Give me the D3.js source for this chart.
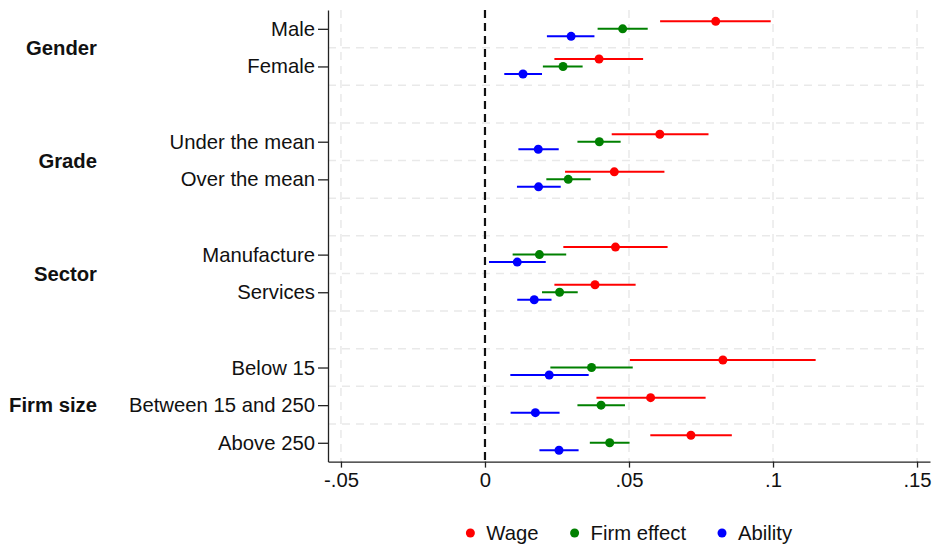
<!DOCTYPE html>
<html>
<head>
<meta charset="utf-8">
<script src="https://cdn.jsdelivr.net/npm/d3@7"></script>
<style>
  body { margin: 0; background: #fff; }
  text { font-family: "Liberation Sans", Arial, sans-serif; fill: #111; }
</style>
</head>
<body>
<svg></svg>
<script>
// groups and their rows (top to bottom)
let groupNames = ["Gender", "Grade", "Sector", "Firm size"];
let groupRows = [
  ["Male", "Female"],
  ["Under the mean", "Over the mean"],
  ["Manufacture", "Services"],
  ["Below 15", "Between 15 and 250", "Above 250"]
];

let seriesNames = ["Wage", "Firm effect", "Ability"];
let seriesColors = ["#ff0000", "#008000", "#0000ff"];

// point estimates and 95% bounds, one value per row (same order as groupRows flattened)
let wageEst   = [0.0801, 0.0396, 0.0607, 0.0449, 0.0453, 0.0382, 0.0826, 0.0575, 0.0715];
let wageLo    = [0.0608, 0.0241, 0.0440, 0.0278, 0.0272, 0.0241, 0.0503, 0.0387, 0.0574];
let wageHi    = [0.0992, 0.0549, 0.0776, 0.0623, 0.0634, 0.0523, 0.1148, 0.0766, 0.0857];

let firmEst   = [0.0478, 0.0271, 0.0397, 0.0289, 0.0189, 0.0259, 0.0370, 0.0403, 0.0433];
let firmLo    = [0.0391, 0.0201, 0.0321, 0.0213, 0.0096, 0.0198, 0.0227, 0.0321, 0.0364];
let firmHi    = [0.0565, 0.0339, 0.0471, 0.0367, 0.0282, 0.0322, 0.0513, 0.0486, 0.0502];

let abilEst   = [0.0299, 0.0132, 0.0185, 0.0186, 0.0112, 0.0171, 0.0223, 0.0175, 0.0257];
let abilLo    = [0.0215, 0.0067, 0.0116, 0.0111, 0.0014, 0.0112, 0.0088, 0.0089, 0.0189];
let abilHi    = [0.0380, 0.0198, 0.0256, 0.0263, 0.0211, 0.0231, 0.0360, 0.0259, 0.0325];

let xTicks = [-0.05, 0, 0.05, 0.1, 0.15];
let xTickLabels = ["-.05", "0", ".05", ".1", ".15"];

let width = 933;
let height = 544;
let fontSize = 20.3;

let svg = d3.select("svg").attr("width", width).attr("height", height);

// work out slot index of every row (one empty slot between groups)
let rows = [];
let groupPos = [];
let slot = 0;
groupRows.forEach((g, gi) => {
  let first = slot;
  g.forEach((name) => {
    rows.push({ name: name, slot: slot });
    slot++;
  });
  groupPos.push({ name: groupNames[gi], mid: (first + slot) / 2 });
  if (gi < groupRows.length - 1) slot++;
});
let nSlots = slot;

let xScale = d3.scaleLinear().domain([-0.0545, 0.1545]).range([328, 930]);
let yScale = d3.scaleLinear().domain([0, nSlots]).range([10, 461.6]);
let offset = d3.scalePoint().domain(seriesNames).range([-7.5, 7.5]);

// build points
let allSeries = [
  [wageEst, wageLo, wageHi],
  [firmEst, firmLo, firmHi],
  [abilEst, abilLo, abilHi]
];
let points = [];
allSeries.forEach((s, si) => {
  rows.forEach((r, ri) => {
    points.push({
      series: seriesNames[si], color: seriesColors[si],
      slot: r.slot, est: s[0][ri], lo: s[1][ri], hi: s[2][ri]
    });
  });
});

// grid lines
let grid = svg.append("g");
grid.selectAll(".hgrid")
    .data(d3.range(1, nSlots))
    .enter().append("line")
    .attr("x1", xScale.range()[0]).attr("x2", xScale.range()[1])
    .attr("y1", (d) => yScale(d)).attr("y2", (d) => yScale(d))
    .attr("stroke", "#e9e9e9").attr("stroke-width", 1.5)
    .attr("stroke-dasharray", "8,6");
grid.selectAll(".vgrid")
    .data(xTicks.filter((d) => d !== 0))
    .enter().append("line")
    .attr("x1", (d) => xScale(d)).attr("x2", (d) => xScale(d))
    .attr("y1", yScale(0)).attr("y2", yScale(nSlots))
    .attr("stroke", "#e9e9e9").attr("stroke-width", 1.5)
    .attr("stroke-dasharray", "8,6");

// zero reference line
svg.append("line")
   .attr("x1", xScale(0)).attr("x2", xScale(0))
   .attr("y1", yScale(0)).attr("y2", yScale(nSlots))
   .attr("stroke", "#111").attr("stroke-width", 2.2)
   .attr("stroke-dasharray", "8,5");

// axes
let xAxis = d3.axisBottom(xScale)
              .tickValues(xTicks)
              .tickFormat((d, i) => xTickLabels[i])
              .tickSize(6).tickSizeOuter(0).tickPadding(5);
let gx = svg.append("g")
   .attr("transform", "translate(0," + yScale(nSlots) + ")")
   .call(xAxis);
gx.select(".domain").attr("stroke", "#222").attr("stroke-width", 1.3);
gx.selectAll(".tick line").attr("stroke", "#222").attr("stroke-width", 1.3);
gx.selectAll(".tick text").attr("font-size", fontSize).attr("font-family", "Liberation Sans, Arial, sans-serif").attr("fill", "#111");

let yAxis = d3.axisLeft(yScale)
              .tickValues(rows.map((r) => r.slot + 0.5))
              .tickFormat((d, i) => rows[i].name)
              .tickSize(10).tickSizeOuter(0).tickPadding(3);
let gy = svg.append("g")
   .attr("transform", "translate(" + xScale.range()[0] + ",0)")
   .call(yAxis);
gy.select(".domain").attr("stroke", "#222").attr("stroke-width", 1.3);
gy.selectAll(".tick line").attr("stroke", "#222").attr("stroke-width", 1.3);
gy.selectAll(".tick text").attr("font-size", fontSize).attr("font-family", "Liberation Sans, Arial, sans-serif").attr("fill", "#111");

// group labels
svg.selectAll(".group")
   .data(groupPos)
   .enter().append("text")
   .attr("x", 97)
   .attr("y", (d) => yScale(d.mid))
   .attr("dy", "0.35em")
   .attr("text-anchor", "end")
   .attr("font-weight", "bold")
   .attr("font-size", fontSize)
   .text((d) => d.name);

// confidence intervals
svg.selectAll(".ci")
   .data(points)
   .enter().append("line")
   .attr("x1", (d) => xScale(d.lo)).attr("x2", (d) => xScale(d.hi))
   .attr("y1", (d) => yScale(d.slot + 0.5) + offset(d.series))
   .attr("y2", (d) => yScale(d.slot + 0.5) + offset(d.series))
   .attr("stroke", (d) => d.color).attr("stroke-width", 2);

// point estimates
svg.selectAll(".pt")
   .data(points)
   .enter().append("circle")
   .attr("cx", (d) => xScale(d.est))
   .attr("cy", (d) => yScale(d.slot + 0.5) + offset(d.series))
   .attr("r", 4.5)
   .attr("fill", (d) => d.color);

// legend
let legend = svg.append("g").attr("transform", "translate(0,533)");
let lx = 0;
let items = [];
seriesNames.forEach((name, i) => {
  let g = legend.append("g");
  g.append("circle").attr("cx", 0).attr("cy", 0).attr("r", 4.5).attr("fill", seriesColors[i]);
  let t = g.append("text").attr("x", 16).attr("dy", "0.35em").attr("font-size", fontSize).text(name);
  let w = 16 + t.node().getComputedTextLength();
  items.push({ g: g, x: lx });
  lx += w + 36;
});
let total = lx - 36 + 4.5;
let start = (xScale.range()[0] + xScale.range()[1]) / 2 - total / 2 + 4.5;
items.forEach((it) => it.g.attr("transform", "translate(" + (start + it.x) + ",0)"));
</script>
</body>
</html>
